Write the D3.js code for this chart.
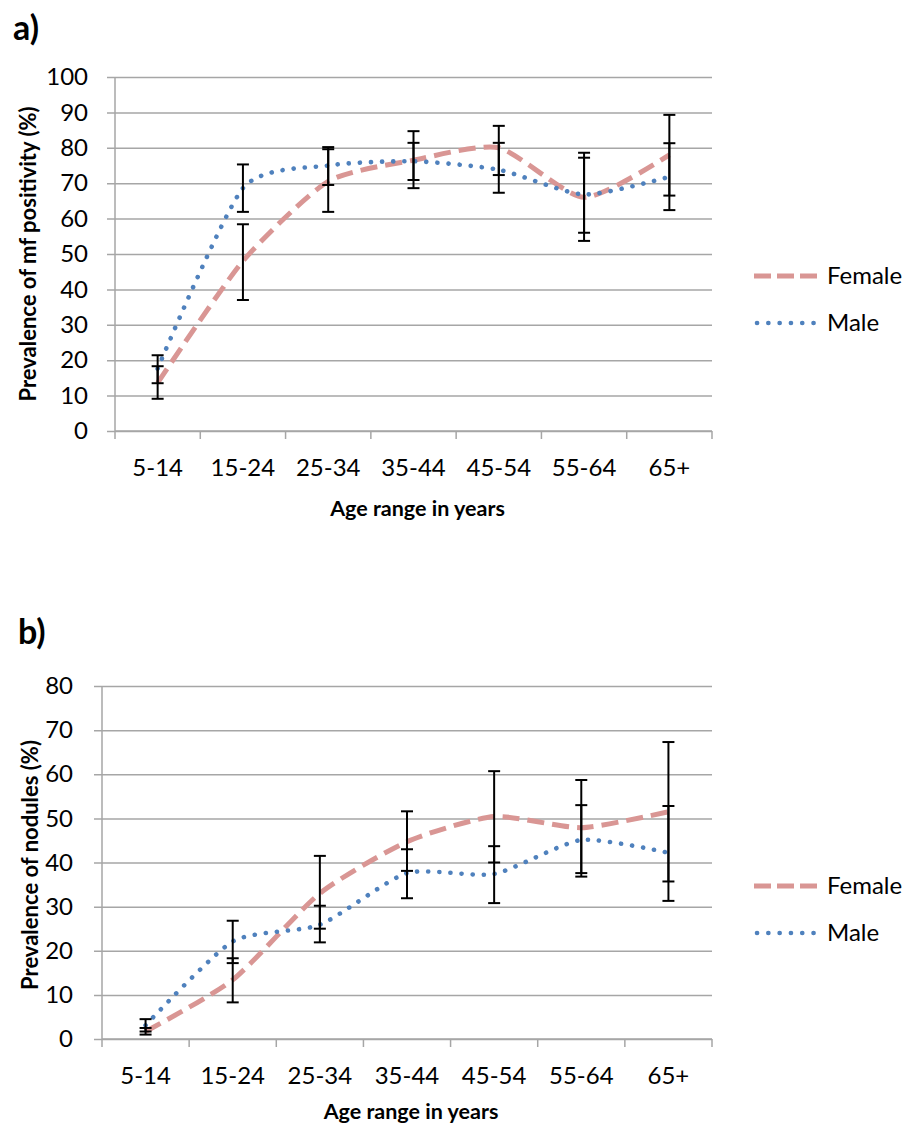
<!DOCTYPE html>
<html>
<head>
<meta charset="utf-8">
<script src="https://cdn.jsdelivr.net/npm/d3@7"></script>
<style>
  body { margin: 0; background: #fff; }
  svg { display: block; font-family: Lato, "Open Sans", sans-serif; }
</style>
</head>
<body>
<svg id="chart" width="917" height="1127"></svg>
<script>
// age groups shared by both panels
var ageGroups = ["5-14", "15-24", "25-34", "35-44", "45-54", "55-64", "65+"];

// panel a) prevalence of mf positivity (%)
var mfFemale   = [13.6, 48.0, 70.5, 76.5, 80.0, 66.0, 78.0];
var mfFemaleLo = [9.1, 37.0, 61.9, 68.6, 72.3, 53.7, 66.5];
var mfFemaleHi = [18.3, 58.4, 79.6, 84.7, 86.2, 78.6, 89.3];
var mfMale     = [17.6, 68.6, 75.0, 76.2, 73.8, 66.8, 71.8];
var mfMaleLo   = [13.5, 61.9, 69.5, 70.9, 67.3, 56.0, 62.4];
var mfMaleHi   = [21.4, 75.3, 80.2, 81.4, 81.4, 77.2, 81.3];
var mfTicks    = [0, 10, 20, 30, 40, 50, 60, 70, 80, 90, 100];

// panel b) prevalence of nodules (%)
var nodFemale   = [1.7, 13.4, 33.0, 44.7, 50.4, 47.9, 51.5];
var nodFemaleLo = [1.0, 8.3, 25.0, 38.1, 40.0, 36.8, 35.7];
var nodFemaleHi = [2.5, 18.3, 41.5, 51.6, 60.7, 58.7, 67.3];
var nodMale     = [3.1, 22.1, 25.9, 37.6, 37.4, 45.1, 42.2];
var nodMaleLo   = [1.7, 17.2, 21.9, 31.9, 30.8, 37.6, 31.3];
var nodMaleHi   = [4.5, 26.8, 30.2, 43.0, 43.7, 53.0, 52.8];
var nodTicks    = [0, 10, 20, 30, 40, 50, 60, 70, 80];

var seriesNames = ["Female", "Male"];

var svg = d3.select("#chart");

var FEMALE_COLOR = "#d99694";
var MALE_COLOR = "#4f81bd";
var GRID = "#a6a6a6";
var TEXT = "#000";

function drawPanel(o) {
  var x = d3.scaleBand().domain(ageGroups).range([o.left, o.right]);
  var y = d3.scaleLinear().domain([0, o.max]).range([o.bottom, o.top]);
  var g = svg.append("g");

  // panel letter
  g.append("text")
    .attr("x", o.letterX).attr("y", o.letterY)
    .attr("font-size", 34).attr("font-weight", "bold").attr("fill", TEXT)
    .text(o.letter);

  // gridlines + y ticks (Excel style, tick marks outside)
  var yAxis = d3.axisLeft(y).tickValues(o.ticks).tickSize(o.right - o.left + 8).tickPadding(0).tickFormat(d3.format("d"));
  var ya = g.append("g").attr("transform", "translate(" + o.right + ",0)").call(yAxis);
  ya.select(".domain").remove();
  ya.selectAll(".tick line").attr("stroke", GRID).attr("stroke-width", 1.5);
  ya.selectAll(".tick text")
    .attr("x", -(o.right - o.left) - o.labelGap)
    .attr("font-size", 24).attr("fill", TEXT)
    .attr("font-family", "Lato, 'Open Sans', sans-serif");

  // y axis line
  g.append("line")
    .attr("x1", o.left).attr("x2", o.left)
    .attr("y1", o.top).attr("y2", o.bottom)
    .attr("stroke", GRID).attr("stroke-width", 1.5);

  // x axis with boundary ticks
  var bounds = ageGroups.map(function(d) { return x(d); }).concat([o.right]);
  g.append("line")
    .attr("x1", o.left).attr("x2", o.right)
    .attr("y1", o.bottom).attr("y2", o.bottom)
    .attr("stroke", GRID).attr("stroke-width", 1.5);
  g.selectAll(".xb").data(bounds).enter().append("line")
    .attr("x1", function(d) { return d; }).attr("x2", function(d) { return d; })
    .attr("y1", o.bottom).attr("y2", o.bottom + 8)
    .attr("stroke", GRID).attr("stroke-width", 1.5);
  g.selectAll(".xl").data(ageGroups).enter().append("text")
    .attr("x", function(d) { return x(d) + x.bandwidth() / 2; })
    .attr("y", o.bottom + 45)
    .attr("text-anchor", "middle")
    .attr("font-size", 24).attr("fill", TEXT)
    .text(function(d) { return d; });

  // axis titles
  g.append("text")
    .attr("x", (o.left + o.right) / 2 + 4).attr("y", o.bottom + o.xTitleGap)
    .attr("text-anchor", "middle")
    .attr("font-size", 21.5).attr("font-weight", "bold").attr("fill", TEXT)
    .text("Age range in years");
  g.append("text")
    .attr("transform", "translate(" + o.titleX + "," + o.titleY + ") rotate(-90)")
    .attr("text-anchor", "middle")
    .attr("font-size", 22).attr("font-weight", "bold").attr("fill", TEXT)
    .text(o.yTitle);

  var cx = function(i) { return x(ageGroups[i]) + x.bandwidth() / 2; };
  var line = d3.line()
    .x(function(d, i) { return cx(i); })
    .y(function(d) { return y(d); })
    .curve(d3.curveCardinal.tension(0.35));

  var series = [
    { vals: o.female, lo: o.femaleLo, hi: o.femaleHi, color: FEMALE_COLOR, width: 5, dash: "17 8", cap: "butt" },
    { vals: o.male, lo: o.maleLo, hi: o.maleHi, color: MALE_COLOR, width: 4.6, dash: "0.1 11", cap: "round" }
  ];

  series.forEach(function(s) {
    g.append("path")
      .attr("d", line(s.vals))
      .attr("fill", "none")
      .attr("stroke", s.color)
      .attr("stroke-width", s.width)
      .attr("stroke-dasharray", s.dash)
      .attr("stroke-linecap", s.cap);
  });

  // error bars
  series.forEach(function(s) {
    s.vals.forEach(function(v, i) {
      var px = cx(i);
      g.append("line").attr("x1", px).attr("x2", px)
        .attr("y1", y(s.lo[i])).attr("y2", y(s.hi[i]))
        .attr("stroke", "#000").attr("stroke-width", 2);
      [s.lo[i], s.hi[i]].forEach(function(e) {
        g.append("line").attr("x1", px - 6).attr("x2", px + 6)
          .attr("y1", y(e)).attr("y2", y(e))
          .attr("stroke", "#000").attr("stroke-width", 2);
      });
    });
  });

  // legend
  series.forEach(function(s, i) {
    var ly = o.legendY + i * 47;
    g.append("line")
      .attr("x1", 754).attr("x2", 817)
      .attr("y1", ly).attr("y2", ly)
      .attr("stroke", s.color)
      .attr("stroke-width", s.width)
      .attr("stroke-dasharray", i === 0 ? "17 6" : "0.1 11.2")
      .attr("stroke-linecap", s.cap)
      .attr("transform", i === 0 ? null : "translate(3,0)");
    g.append("text")
      .attr("x", 827).attr("y", ly)
      .attr("dy", "0.35em")
      .attr("font-size", 24).attr("fill", TEXT)
      .text(seriesNames[i]);
  });
}

drawPanel({
  letter: "a)", letterX: 13, letterY: 40,
  left: 115, right: 712, top: 77, bottom: 431, max: 100,
  ticks: mfTicks, labelGap: 27, titleX: 36, titleY: 254, xTitleGap: 85,
  yTitle: "Prevalence of mf positivity (%)",
  female: mfFemale, femaleLo: mfFemaleLo, femaleHi: mfFemaleHi,
  male: mfMale, maleLo: mfMaleLo, maleHi: mfMaleHi,
  legendY: 276
});

drawPanel({
  letter: "b)", letterX: 18, letterY: 644,
  left: 102, right: 712, top: 686, bottom: 1039, max: 80,
  ticks: nodTicks, labelGap: 29, titleX: 38, titleY: 865, xTitleGap: 80,
  yTitle: "Prevalence of nodules (%)",
  female: nodFemale, femaleLo: nodFemaleLo, femaleHi: nodFemaleHi,
  male: nodMale, maleLo: nodMaleLo, maleHi: nodMaleHi,
  legendY: 886
});
</script>
</body>
</html>
